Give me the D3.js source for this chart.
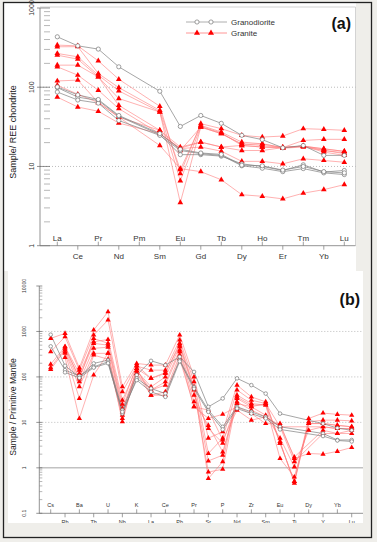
<!DOCTYPE html>
<html>
<head>
<meta charset="utf-8">
<script src="https://cdn.jsdelivr.net/npm/d3@7"></script>
<style>
  body { margin: 0; background: #efeeea; }
  text { font-family: "Liberation Sans", Arial, sans-serif; }
</style>
</head>
<body>
<svg id="fig" width="377" height="542"></svg>
<script>
// ---- panel (a): REE, chondrite normalised ----
const reeElements = ["La","Ce","Pr","Nd","Pm","Sm","Eu","Gd","Tb","Dy","Ho","Er","Tm","Yb","Lu"];
const reeTicks = [1, 10, 100, 1000];

const granodioriteREE = [
  [433, 333, 303, 181, null, 89, 32, 44, 35, 24.7, 21.8, 17.2, 18.4, 13.8, 13.8],
  [99, 75, 68, 43, null, 25.2, 14.1, 14.1, 13.5, 10.8, 10.0, 8.9, 10.5, 8.5, 8.9],
  [87, 69, 63, 38, null, 24.7, 15.9, 14.5, 13.8, 10.2, 9.5, 8.6, 9.4, 8.3, 7.9],
  [101, 80, 70, 44, null, 26, 16.5, 14.8, 14.2, 10.4, 10.2, 9.0, 10.0, 8.6, 8.3]
];

const graniteREE = [
  [340, 333, 215, 126, null, 57.5, 8.1, 34.7, 30, 24.7, 23.5, 24.2, 30, 29.4, 28.6],
  [324, 325, 149, 99, null, 51, 9.1, 33, 27.2, 20.3, 19.3, 17.3, 21.3, 22, 22],
  [267, 242, 142, 90, null, 49, 3.5, 31.4, 25.9, 19.3, 18.4, 17.3, 18.1, 16.7, 15.5],
  [254, 226, 135, 72, null, 48.7, 6.6, 32, 26.5, 18.4, 17.6, 17.0, 17.6, 15.9, 14.9],
  [190, 190, 135, 59, null, 28.6, 17.6, 20.3, 17.6, 15.9, 15.9, 17.3, 18.1, 15.2, 13.8],
  [181, 142, 91.6, 53.7, null, 25.9, 16.8, 17.6, 15.6, 11.6, 11.6, 10.8, 12.5, 11.9, 11.3],
  [120, 123, 64, 42, null, 28.6, 15.9, 31.4, 26, 19, 19.3, 17.3, 18, 16.7, 15.5],
  [106, 81.5, 64, 42, null, 18.4, 9.4, 8.6, 6.8, 4.4, 4.2, 3.9, 4.6, 5.1, 5.9],
  [75, 56.3, 49.7, 35.3, null, 25.9, 17, 20.3, 17.6, 18.4, 17.6, 17.3, 18.1, 16, 14.5]
];

// ---- panel (b): primitive mantle normalised ----
const spiderElements = ["Cs","Rb","Ba","Th","U","Nb","K","La","Ce","Pb","Pr","Sr","P","Nd","Zr","Sm","Eu","Ti","Dy","Y","Yb","Lu"];
const spiderTicks = [0.1, 1, 10, 100, 1000, 10000];

const granodioriteSpider = [
  [850, 176, 100, 198, 234, 18.6, 110, 226, 182, 277, 129, 22, 33.6, 93, 66, 43, 15.6, null, null, 9.4, 7.5, 6.7],
  [470, 141, 105, 167, 215, 15.6, 93, 55.7, 43, 234, 60, 18.6, 8, 22, 17, 13.2, 8, null, null, 5.7, 4.1, 4.1],
  [null, 126, 95, 160, 200, 17, 85, 47, 36.4, 220, 55, 17, 7, 20.2, 15.6, 12.2, 7, null, null, 5.0, 4.0, 3.8]
];

const graniteSpider = [
  [705, 908, 158, 1074, 2717, 60.5, 198, 182, 182, 833, 100, 4.5, 6.2, 66, 36.4, 28.3, 3.5, 0.5, 12.2, 16, 15, 14.4],
  [357, 764, 141, 833, 1783, 47, 173, 141, 141, 647, 78, 2.07, 4.5, 51.5, 30.8, 26, 3.8, 0.46, 10.3, 11.2, 11.2, 10.8],
  [190, 460, 119, 593, 667, 30.8, 154, 93, 119, 547, 60.5, 0.58, 1.37, 39.7, 26, 24, 1.6, 0.63, 9.4, 9.4, 8.6, 8.0],
  [160, 425, 97.5, 547, 500, 20.2, 137, 60.5, 100, 460, 51.5, 0.81, 0.93, 33.6, 22, 14.4, 4.5, 1.05, 6.7, 8.0, 7.3, 7.3],
  [146, 389, 78, 425, 450, 17, 137, 51.5, 78, 389, 39.7, 7.3, 3.5, 28.3, 18.6, 13.2, 8.6, 1.73, null, 6.7, 5.7, 6.7],
  [null, 357, 60.5, 330, 330, 14.4, 119, 51.5, 66, 357, 28.3, 8.6, 2.24, 26, 22, 26, 8.0, 1.37, null, 5.7, 5.7, 5.7],
  [null, 330, 33.6, 302, 245, 12.2, 119, 39.7, 47, 302, 22, 12.2, 15.1, 22, 15.6, 9.4, 9.4, 1.6, 2.07, 2.0, 2.3, 2.8],
  [null, 269, 12.2, 110, 330, 10.3, 154, 39.7, 39.7, 255, 22, 18.6, 4.1, 18.6, 11.2, 13.2, 8.0, null, null, 8.0, 7.3, 7.3],
  [null, 460, 90, 700, 550, 25, 180, 93, 125, 500, 55, 1.42, 1.9, 36, 24, 24, 3.5, 0.5, 9.4, 9.5, 8.6, 8.0]
];

const RED = "#ff0000";
const RED_LINE = "#ff7b7b";
const GRAY_LINE = "#808080";

const svg = d3.select("#fig");

svg.append("rect").attr("width", 377).attr("height", 542).attr("fill", "#efeeea");
// white panel areas
svg.append("rect").attr("x", 4).attr("y", 3).attr("width", 352).attr("height", 268).attr("fill", "#fff");
svg.append("rect").attr("x", 8).attr("y", 271).attr("width", 355).attr("height", 252).attr("fill", "#fff");
// outer frame
svg.append("rect").attr("x", 3.5).attr("y", 2.5).attr("width", 368).attr("height", 535)
  .attr("fill", "none").attr("stroke", "#222").attr("stroke-width", 1.3);

function drawSpider(cfg) {
  const g = svg.append("g");
  const x = d3.scalePoint().domain(cfg.elements).range(cfg.xRange);
  const y = d3.scaleLog().domain(cfg.yDomain).range(cfg.yRange);
  const axisY = cfg.yRange[0];

  // box (panel a only)
  if (cfg.box) {
    g.append("path")
      .attr("d", `M${cfg.left},${cfg.yRange[1] - 1}H${cfg.right}V${axisY}`)
      .attr("fill", "none").attr("stroke", "#c8c8c8").attr("stroke-width", 0.8);
  }

  // grid lines
  cfg.grid.forEach((v) => {
    g.append("line")
      .attr("x1", cfg.left).attr("x2", cfg.right)
      .attr("y1", y(v)).attr("y2", y(v))
      .attr("stroke", v === 1 ? "#9a9a9a" : "#a0a0a0")
      .attr("stroke-width", v === 1 ? 0.9 : 0.7)
      .attr("stroke-dasharray", v === 1 ? null : "1,2");
  });

  // y axis with log ticks
  g.append("line")
    .attr("x1", cfg.left).attr("x2", cfg.left)
    .attr("y1", cfg.yRange[1]).attr("y2", axisY)
    .attr("stroke", "#777").attr("stroke-width", 0.8);

  const minor = [];
  for (let i = 0; i < cfg.ticks.length - 1; i++) {
    for (let k = 2; k <= 9; k++) minor.push(cfg.ticks[i] * k);
  }
  g.selectAll(".minor").data(minor).join("line")
    .attr("x1", cfg.left + cfg.minorGap).attr("x2", cfg.left + cfg.minorLen)
    .attr("y1", (d) => y(d)).attr("y2", (d) => y(d))
    .attr("stroke", "#888").attr("stroke-width", 0.6);
  g.selectAll(".major").data(cfg.ticks).join("line")
    .attr("x1", cfg.left - 3).attr("x2", cfg.left + cfg.minorLen)
    .attr("y1", (d) => y(d)).attr("y2", (d) => y(d))
    .attr("stroke", "#666").attr("stroke-width", 0.7);
  g.selectAll(".ylab").data(cfg.ticks).join("text")
    .attr("transform", (d) => `translate(${cfg.yLabelX},${y(d)}) rotate(-90)`)
    .attr("text-anchor", "middle")
    .attr("dy", "0.35em")
    .style("font-size", cfg.yLabelSize + "px")
    .style("fill", "#333")
    .text((d) => d3.format("~g")(d) === "1e+4" ? "10000" : String(d));

  g.append("text")
    .attr("transform", `translate(13,${cfg.titleY}) rotate(-90)`)
    .attr("text-anchor", "middle")
    .attr("dy", "0.35em")
    .style("font-size", cfg.titleSize + "px")
    .style("fill", "#222")
    .text(cfg.title);

  // x axis
  g.append("line")
    .attr("x1", cfg.left).attr("x2", cfg.right)
    .attr("y1", axisY).attr("y2", axisY)
    .attr("stroke", "#777").attr("stroke-width", 0.8);
  g.selectAll(".xtick").data(cfg.elements).join("line")
    .attr("x1", (d) => x(d)).attr("x2", (d) => x(d))
    .attr("y1", axisY)
    .attr("y2", (d, i) => (i % 2 === 0 ? axisY - cfg.tickLen : axisY + cfg.tickLen))
    .attr("stroke", "#777").attr("stroke-width", 0.7);

  const xLabs = g.append("g");
  if (cfg.clipBottom) {
    svg.append("clipPath").attr("id", "clipb").append("rect")
      .attr("x", 0).attr("y", 0).attr("width", 377).attr("height", cfg.clipBottom);
    xLabs.attr("clip-path", "url(#clipb)");
  }
  xLabs.selectAll("text").data(cfg.elements).join("text")
    .attr("x", (d) => x(d))
    .attr("y", (d, i) => (i % 2 === 0 ? cfg.upperLabelY : cfg.lowerLabelY))
    .attr("text-anchor", "middle")
    .style("font-size", cfg.xLabelSize + "px")
    .style("fill", "#333")
    .text((d) => d);

  // series
  const line = d3.line().x((d) => x(d.el)).y((d) => y(d.v));
  const toPts = (row) => row.map((v, i) => ({ el: cfg.elements[i], v })).filter((d) => d.v != null);

  g.selectAll(".red-line").data(cfg.granite).join("path")
    .attr("d", (row) => line(toPts(row)))
    .attr("fill", "none").attr("stroke", RED_LINE).attr("stroke-width", 0.7).attr("opacity", 0.85);
  g.selectAll(".gray-line").data(cfg.granodiorite).join("path")
    .attr("d", (row) => line(toPts(row)))
    .attr("fill", "none").attr("stroke", GRAY_LINE).attr("stroke-width", 0.7);

  const tri = d3.symbol(d3.symbolTriangle, cfg.triSize);
  cfg.granite.forEach((row) => {
    g.append("g").selectAll("path").data(toPts(row)).join("path")
      .attr("transform", (d) => `translate(${x(d.el)},${y(d.v)})`)
      .attr("d", tri).attr("fill", RED);
  });
  cfg.granodiorite.forEach((row) => {
    g.append("g").selectAll("circle").data(toPts(row)).join("circle")
      .attr("cx", (d) => x(d.el)).attr("cy", (d) => y(d.v))
      .attr("r", cfg.circleR)
      .attr("fill", "#fff").attr("stroke", "#777").attr("stroke-width", 0.7);
  });

  g.append("text")
    .attr("x", cfg.tag.x).attr("y", cfg.tag.y)
    .attr("text-anchor", "end")
    .style("font-size", cfg.tag.size + "px")
    .style("font-weight", "bold")
    .style("fill", "#111")
    .text(cfg.tag.text);

  return { g, x, y };
}

const panelA = drawSpider({
  elements: reeElements, granite: graniteREE, granodiorite: granodioriteREE,
  xRange: [57.3, 344.3], yDomain: [1, 1000], yRange: [245.7, 8],
  left: 40, right: 355.5, box: true, grid: [10, 100], ticks: reeTicks,
  minorGap: 4, minorLen: 10, yLabelX: 32, yLabelSize: 7,
  title: "Sample/ REE chondrite", titleY: 132, titleSize: 9,
  tickLen: 4, upperLabelY: 240.5, lowerLabelY: 258.5, xLabelSize: 8,
  triSize: 14, circleR: 2.1,
  tag: { x: 351, y: 29, size: 16, text: "(a)" }
});

drawSpider({
  elements: spiderElements, granite: graniteSpider, granodiorite: granodioriteSpider,
  xRange: [50.7, 351.7], yDomain: [0.1, 10000], yRange: [513.3, 286],
  left: 39.3, right: 363, box: false, grid: [1, 10, 100, 1000], ticks: spiderTicks,
  minorGap: 0, minorLen: 3, yLabelX: 24, yLabelSize: 5,
  title: "Sample / Primitive Mantle", titleY: 407, titleSize: 8.6,
  tickLen: 4, upperLabelY: 507, lowerLabelY: 523.5, xLabelSize: 5.5,
  triSize: 12, circleR: 1.8, clipBottom: 523,
  tag: { x: 360, y: 305, size: 16, text: "(b)" }
});

// legend (panel a)
const leg = svg.append("g");
const legendItems = [
  { label: "Granodiorite", y: 22, kind: "gray" },
  { label: "Granite", y: 33, kind: "red" }
];
legendItems.forEach((it) => {
  leg.append("line")
    .attr("x1", 186).attr("x2", 227).attr("y1", it.y).attr("y2", it.y)
    .attr("stroke", it.kind === "gray" ? "#999" : RED_LINE).attr("stroke-width", 0.8);
  [197, 211].forEach((cx) => {
    if (it.kind === "gray") {
      leg.append("circle").attr("cx", cx).attr("cy", it.y).attr("r", 2.1)
        .attr("fill", "#fff").attr("stroke", "#777").attr("stroke-width", 0.7);
    } else {
      leg.append("path").attr("transform", `translate(${cx},${it.y})`)
        .attr("d", d3.symbol(d3.symbolTriangle, 16)).attr("fill", RED);
    }
  });
  leg.append("text").attr("x", 231).attr("y", it.y + 3)
    .style("font-size", "8px").style("fill", "#333").text(it.label);
});
</script>
</body>
</html>
